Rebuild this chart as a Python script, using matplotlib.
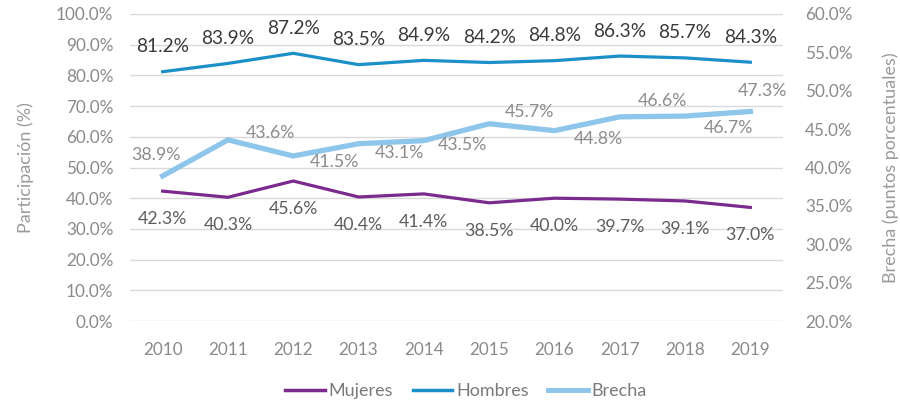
import matplotlib
matplotlib.use("Agg")
import matplotlib.pyplot as plt
from matplotlib.ticker import FuncFormatter, MultipleLocator
from matplotlib.lines import Line2D

plt.rcParams['font.family'] = ['Lato', 'DejaVu Sans']

years = ["2010", "2011", "2012", "2013", "2014", "2015", "2016", "2017", "2018", "2019"]
mujeres = [42.3, 40.3, 45.6, 40.4, 41.4, 38.5, 40.0, 39.7, 39.1, 37.0]
hombres = [81.2, 83.9, 87.2, 83.5, 84.9, 84.2, 84.8, 86.3, 85.7, 84.3]
brecha = [38.9, 43.6, 41.5, 43.1, 43.5, 45.7, 44.8, 46.6, 46.7, 47.3]

# label offsets (pixels) for brecha labels as placed in the reference
brecha_dx = [-7, 43, 41, 41, 39, 40, 44, 43, 43, 12]
brecha_dy = [21, 7, -6, -9, -4, 12, -8, 16, -12, 20]

c_muj = "#7b2a8e"
c_hom = "#1b8fc8"
c_bre = "#8ec5ea"
grid_c = "#d9d9d9"
tick_c = "#8a8a8a"

fig = plt.figure(figsize=(9, 4.01), dpi=100)
W, H = 900, 401
ax = fig.add_axes([130 / W, 1 - 321 / H, (783 - 130) / W, (321 - 14) / H])
ax2 = ax.twinx()

x = list(range(len(years)))
ax.plot(x, hombres, color=c_hom, lw=2.3, zorder=3, solid_joinstyle='miter')
ax.plot(x, mujeres, color=c_muj, lw=2.3, zorder=3, solid_joinstyle='miter')
ax2.plot(x, brecha, color=c_bre, lw=3.8, zorder=3, solid_joinstyle='miter')

ax.set_ylim(0, 100)
ax2.set_ylim(20, 60)
ax.set_xlim(-0.5, len(years) - 0.5)
ax.yaxis.set_major_locator(MultipleLocator(10))
ax2.yaxis.set_major_locator(MultipleLocator(5))
fmt = FuncFormatter(lambda v, p: f"{v:.1f}%")
ax.yaxis.set_major_formatter(fmt)
ax2.yaxis.set_major_formatter(fmt)
ax.set_xticks(x)
ax.set_xticklabels(years)

ax.grid(axis='y', color=grid_c, lw=1.0, zorder=0)
ax.set_axisbelow(True)
for a in (ax, ax2):
    for s in a.spines.values():
        s.set_visible(False)
    a.tick_params(length=0, colors=tick_c, labelsize=12.3)
ax.tick_params(axis='y', pad=12)
ax2.tick_params(axis='y', pad=16)
ax.tick_params(axis='x', pad=15)

ax.set_ylabel("Participación (%)", color="#9a9a9a", fontsize=13, labelpad=16)
ax2.set_ylabel("Brecha (puntos porcentuales)", color="#9a9a9a", fontsize=13, labelpad=21)

for i, v in enumerate(hombres):
    ax.annotate(f"{v:.1f}%", (i, v), xytext=(0, 25), textcoords='offset pixels',
                ha='center', va='center', fontsize=13.8, color="#3a3a3a")
for i, v in enumerate(mujeres):
    ax.annotate(f"{v:.1f}%", (i, v), xytext=(0, -28), textcoords='offset pixels',
                ha='center', va='center', fontsize=12.8, color="#5e5e5e")
for i, v in enumerate(brecha):
    ax2.annotate(f"{v:.1f}%", (i, v), xytext=(brecha_dx[i], brecha_dy[i]), textcoords='offset pixels',
                 ha='center', va='center', fontsize=12.8, color="#8c8c8c")

handles = [Line2D([], [], color=c_muj, lw=2.5),
           Line2D([], [], color=c_hom, lw=2.5),
           Line2D([], [], color=c_bre, lw=3.5)]
leg = fig.legend(handles, ["Mujeres", "Hombres", "Brecha"], loc='center',
                 bbox_to_anchor=(466 / W, 1 - 391 / H), ncol=3, frameon=False,
                 fontsize=13, handlelength=2.2, handletextpad=0.2, columnspacing=1.1)
for t in leg.get_texts():
    t.set_color("#7a7a7a")

fig.savefig("out.png", dpi=100)
